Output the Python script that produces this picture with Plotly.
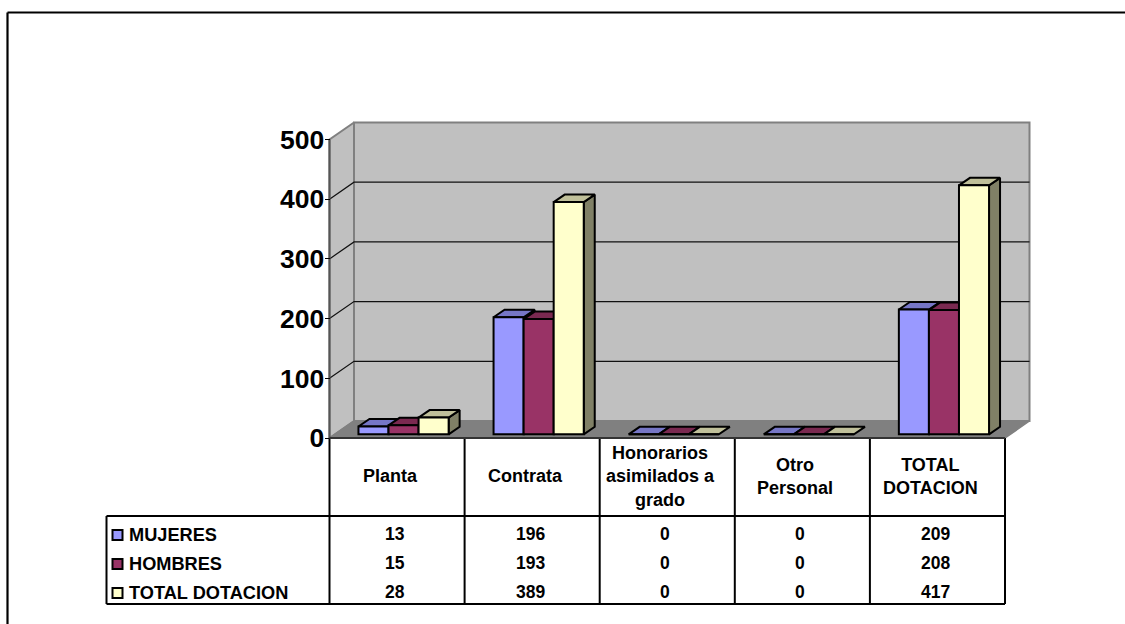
import plotly.graph_objects as go

categorias = ["Planta", "Contrata", "Honorarios asimilados a grado", "Otro Personal", "TOTAL DOTACION"]
encabezados = ["Planta", "Contrata", "Honorarios<br>asimilados a<br>grado", "Otro<br>Personal", "TOTAL<br>DOTACION"]
series = ["MUJERES", "HOMBRES", "TOTAL DOTACION"]
mujeres = [13, 196, 0, 0, 209]
hombres = [15, 193, 0, 0, 208]
total = [28, 389, 0, 0, 417]
ticks_y = [0, 100, 200, 300, 400, 500]

colores = ["#9999FF", "#993366", "#FFFFCC"]
colores_top = ["#7676C6", "#7A2950", "#C0C09A"]
colores_lado = ["#4D4D80", "#4D1A33", "#808066"]

W, H = 1125, 624
X0, Y0 = 329.5, 438.0      # pixel of the front-left origin
PX_CAT = 135.1             # pixels per category
PX_VAL = 0.597             # pixels per unit
WALL_DX, WALL_DY = 24.5, 17.0
FRONT_DX, FRONT_DY = 6.5, 3.7
DEPTH_DX, DEPTH_DY = 11.0, 7.5
BAR_W = 0.2225
OSCURO = "#000000"
FONT = "Liberation Sans"
LW = 2

def sx(px):
    return px / PX_CAT
def sy(px):
    return px / PX_VAL
def py(px):
    return 1 - px / H

fig = go.Figure()

def poly(xs, ys, fill, line="#808080", lw=1.5):
    fig.add_trace(go.Scatter(x=xs + xs[:1], y=ys + ys[:1], mode="lines", fill="toself", fillcolor=fill,
                             line=dict(color=line, width=lw), hoverinfo="skip", showlegend=False,
                             cliponaxis=False, xaxis="x", yaxis="y"))

def seg(xs, ys, color, lw):
    fig.add_trace(go.Scatter(x=xs, y=ys, mode="lines", line=dict(color=color, width=lw), hoverinfo="skip",
                             showlegend=False, cliponaxis=False, xaxis="x", yaxis="y"))

n = len(categorias)
left = -0.5
right = n - 0.5
wx, wy = sx(WALL_DX), sy(WALL_DY)
top = ticks_y[-1]

# walls and floor
poly([left + wx, right + wx, right + wx, left + wx], [wy, wy, top + wy, top + wy], "#C0C0C0", "#808080", 2)
poly([left, left + wx, left + wx, left], [0, wy, top + wy, top], "#C0C0C0", "#808080", 2)
poly([left, left + wx, right + wx, right], [0, wy, wy, 0], "#808080")

# gridlines
for v in ticks_y[1:-1]:
    seg([left, left + wx, right + wx], [v, v + wy, v + wy], "#111111", 1.2)
seg([left, left], [0, top], "#555555", 2)

# bar depth faces, painted left to right
fx, fy = sx(FRONT_DX), sy(FRONT_DY)
dx, dy = sx(DEPTH_DX), sy(DEPTH_DY)
valores = [mujeres, hombres, total]
for i in range(n):
    for k, vals in enumerate(valores):
        v = vals[i]
        x1 = i + fx + (k - 1.5) * BAR_W
        x2 = x1 + BAR_W
        y1 = v + fy
        base = fy
        if v > 0:
            poly([x2, x2 + dx, x2 + dx, x2], [base, base + dy, y1 + dy, y1], colores_lado[k], OSCURO, LW)
        poly([x1, x2, x2 + dx, x1 + dx], [y1, y1, y1 + dy, y1 + dy], colores_top[k], OSCURO, LW)

# front faces on the overlaid front plane
for k, vals in enumerate(valores):
    fig.add_trace(go.Bar(x=categorias, y=vals, name=series[k], marker=dict(color=colores[k], line=dict(color=OSCURO, width=LW)),
                         xaxis="x2", yaxis="y2", showlegend=False, hoverinfo="x+y+name"))

# table
annots = []
shapes = []
def linea(x0, y0, x1, y1, xref="paper", color=OSCURO, w=LW):
    shapes.append(dict(type="line", xref=xref, yref="paper", x0=x0, x1=x1, y0=py(y0), y1=py(y1),
                       line=dict(color=color, width=w), layer="above"))

Y_HEAD, Y_BOTTOM = 516, 604
for i in range(n + 1):
    linea(i - 0.5, Y0, i - 0.5, Y_BOTTOM, "x")
linea(-0.5, Y0, n - 0.5, Y0, "x", "#333333", 2)
linea(106.5 / W, Y_HEAD, (X0 + n * PX_CAT) / W, Y_HEAD)
linea(106.5 / W, Y_BOTTOM, (X0 + n * PX_CAT) / W, Y_BOTTOM)
linea(106.5 / W, Y_HEAD, 106.5 / W, Y_BOTTOM)

def texto(x, xref, y, s, anchor="center", size=17.5):
    annots.append(dict(x=x, xref=xref, y=py(y), yref="paper", text=s, showarrow=False, xanchor=anchor, yanchor="middle",
                       font=dict(family=FONT, size=size, color="#000000", weight=700), borderpad=0, borderwidth=0))

for i, h in enumerate(encabezados):
    texto(i - sx(7), "x", 476, h, size=18)
filas_y = [534, 563, 592]
etiquetas_y = [535, 564, 593]
for k, vals in enumerate(valores):
    for i, v in enumerate(vals):
        texto(i - sx(2), "x", filas_y[k], str(v))
    texto(129 / W, "paper", etiquetas_y[k], series[k], "left", size=18.2)
    shapes.append(dict(type="rect", xref="paper", yref="paper", x0=112.5 / W, x1=122.5 / W,
                       y0=py(etiquetas_y[k] - 5), y1=py(etiquetas_y[k] + 5), fillcolor=colores[k],
                       line=dict(color=OSCURO, width=LW), layer="above"))

# outer frame
linea(7.5 / W, 12.5, 1, 12.5, w=2.2)
linea(7.5 / W, 12.5, 7.5 / W, H, w=2.2)

x_rango = [-0.5 - sx(X0), -0.5 + sx(W - X0)]
x2_rango = [-0.5 - sx(X0 + FRONT_DX), -0.5 + sx(W - X0 - FRONT_DX)]
y_rango = [-sy(H - Y0), sy(Y0)]
y2_rango = [-sy(H - Y0 + FRONT_DY), sy(Y0 - FRONT_DY)]

fig.update_layout(
    width=W, height=H, margin=dict(l=0, r=0, t=0, b=0),
    paper_bgcolor="white", plot_bgcolor="white",
    barmode="group", bargap=1 - 3 * BAR_W, bargroupgap=0,
    showlegend=False, shapes=shapes, annotations=annots,
    font=dict(family=FONT),
    xaxis=dict(domain=[0, 1], range=x_rango, visible=False, fixedrange=True),
    yaxis=dict(domain=[0, 1], range=y_rango, anchor="free", position=X0 / W, side="left",
               tickmode="array", tickvals=ticks_y, ticktext=[str(t) for t in ticks_y],
               ticks="outside", ticklen=5, tickwidth=1, tickcolor="#000000",
               ticklabelstandoff=-5,
               tickfont=dict(family=FONT, size=26.5, color="#000000", weight=700),
               showgrid=False, zeroline=False, showline=False, fixedrange=True),
    xaxis2=dict(overlaying="x", type="category", categoryorder="array", categoryarray=categorias,
                range=x2_rango, visible=False, anchor="y2", fixedrange=True),
    yaxis2=dict(overlaying="y", range=y2_rango, visible=False, anchor="x2", fixedrange=True),
)

fig.write_html("out.html", config={"displayModeBar": False},
               post_script="document.body.style.margin='0';document.documentElement.style.overflow='hidden';")
